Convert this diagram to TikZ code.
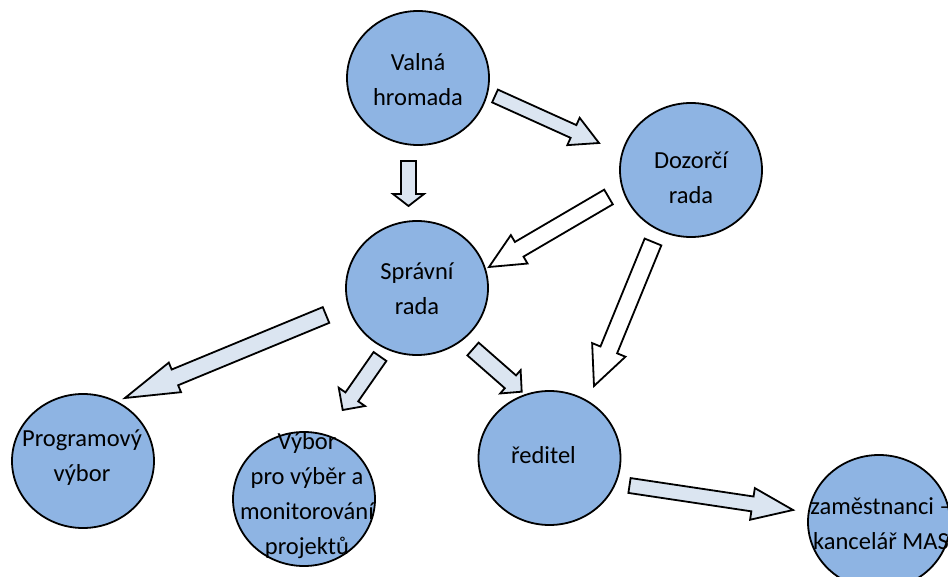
\documentclass[tikz,border=0pt]{standalone}
\usepackage{fontspec}
\setmainfont{Carlito}
\usepackage{tikz}
\usetikzlibrary{calc}
\usetikzlibrary{shapes.geometric}
\definecolor{bubblefill}{HTML}{8EB4E3}
\definecolor{arrowfill}{HTML}{DBE5F1}

% block arrow: [style]{tail}{tip}{half shaft}{half head}{head length}
\newcommand{\blockarrow}[6][]{%
  \coordinate (hb) at ($(#3)!#6!(#2)$);
  \draw[#1] ($(#2)!#4!90:(#3)$) -- ($(hb)!#4!90:(#3)$) -- ($(hb)!#5!90:(#3)$) -- (#3)
    -- ($(hb)!#5!-90:(#3)$) -- ($(hb)!#4!-90:(#3)$) -- ($(#2)!#4!-90:(#3)$) -- cycle;
}

\begin{document}
\begin{tikzpicture}[x=1pt,y=-1pt,
	bubble/.style={ellipse,draw=black,line width=1.8pt,fill=bubblefill,minimum width=142pt,minimum height=134pt,inner sep=0pt},
	txt/.style={align=center,inner sep=0pt,font=\fontsize{24.5}{35}\selectfont},
	barrow/.style={draw=black,line width=1.8pt,fill=arrowfill,line join=miter},
	warrow/.style={barrow,fill=white}]
		\useasboundingbox (0,0) rectangle (948,577);
		\clip (0,0) rectangle (948,577);
		% circles
		\node[bubble] (valna) at (418,78) {};
		\node[bubble] (dozorci) at (691,170) {};
		\node[bubble] (spravni) at (417,288) {};
		\node[bubble] (program) at (83,461) {};
		\node[bubble] (vybor) at (304,499) {};
		\node[bubble] (reditel) at (549.5,458) {};
		\node[bubble] (zamest) at (879,522) {};
		% texts
		\node[txt] (valna-t) at ($(valna)+(0,2)$) {Valná\\hromada};
		\node[txt] (dozorci-t) at ($(dozorci)+(0,8)$) {Dozorčí\\rada};
		\node[txt] (spravni-t) at ($(spravni)+(0,1)$) {Správní\\rada};
		\node[txt] (program-t) at ($(program)+(-1,-3)$) {Programový\\výbor};
		\node[txt] (vybor-t) at ($(vybor)+(3,-3)$) {Výbor\\pro výběr a\\monitorování\\projektů};
		\node[txt] (reditel-t) at ($(reditel)+(-6,-3)$) {ředitel};
		\node[txt] (zamest-t) at ($(zamest)+(2,2)$) {zaměstnanci –\\kancelář MAS};
		% arrow ends
		\coordinate (a1s) at (495,96);	\coordinate (a1e) at (599,143);
		\coordinate (a2s) at (408.5,161);	\coordinate (a2e) at (408.5,206);
		\coordinate (a3s) at (608.5,197);	\coordinate (a3e) at (489,267);
		\coordinate (a4s) at (653,242);	\coordinate (a4e) at (594,386);
		\coordinate (a5s) at (326,315);	\coordinate (a5e) at (125,398);
		\coordinate (a6s) at (380,356.5);	\coordinate (a6e) at (342.7,410);
		\coordinate (a7s) at (473,349);	\coordinate (a7e) at (521.7,391.7);
		\coordinate (a8s) at (629.5,485.5);	\coordinate (a8e) at (793,510);
		% arrows
		\blockarrow[barrow]{a1s}{a1e}{7pt}{15pt}{28pt}
		\blockarrow[barrow]{a2s}{a2e}{7.5pt}{15.5pt}{12pt}
		\blockarrow[warrow]{a3s}{a3e}{8.5pt}{16.5pt}{35pt}
		\blockarrow[warrow]{a4s}{a4e}{9pt}{18pt}{39pt}
		\blockarrow[barrow]{a5s}{a5e}{8.5pt}{16pt}{54pt}
		\blockarrow[barrow]{a6s}{a6e}{7.8pt}{16pt}{16pt}
		\blockarrow[barrow]{a7s}{a7e}{8.5pt}{15.5pt}{15pt}
		\blockarrow[barrow]{a8s}{a8e}{7.5pt}{16pt}{41pt}
	\end{tikzpicture}
\end{document}
